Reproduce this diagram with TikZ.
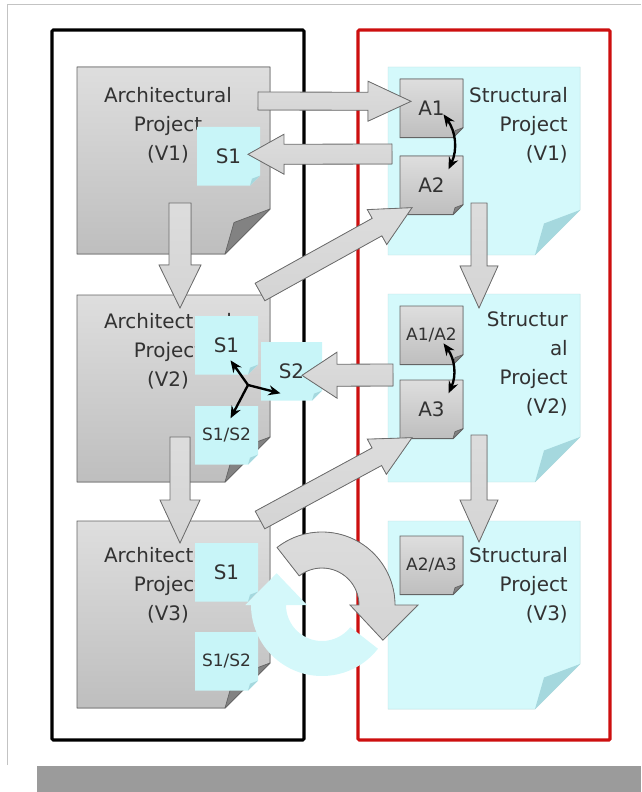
\documentclass[tikz,border=0pt]{standalone}
\usepackage{fontspec}
\setmainfont{DejaVu Sans}
\usetikzlibrary{arrows.meta,calc}
\definecolor{pagetop}{RGB}{222,222,222}
\definecolor{pagebottom}{RGB}{190,190,190}
\definecolor{pageedge}{RGB}{100,100,100}
\definecolor{foldgray}{RGB}{130,130,130}
\definecolor{pagecyan}{RGB}{212,249,251}
\definecolor{foldcyan}{RGB}{165,216,222}
\definecolor{notecyan}{RGB}{200,245,248}
\definecolor{cyclecyan}{RGB}{212,248,250}
\definecolor{arrowfill}{RGB}{212,212,212}
\definecolor{arrowedge}{RGB}{110,110,110}
\definecolor{framered}{RGB}{205,15,15}
\definecolor{textgray}{RGB}{50,50,50}
\definecolor{bordergray}{RGB}{195,195,195}
\definecolor{bargray}{RGB}{155,155,155}

% sheet with a folded corner on an empty box node
\newcommand\foldsheet[4]{%
    \filldraw[#3] (#1.north west) -- (#1.north east) -- ([yshift=#2]#1.south east)
        -- ([xshift=-#2]#1.south east) -- (#1.south west) -- cycle;
    \filldraw[#4] ([yshift=#2]#1.south east) -- ([xshift=-#2]#1.south east)
        -- ([xshift={-0.8*#2}, yshift={0.7*#2}]#1.south east) -- cycle;
}
% wide arrow: from, to, half shaft, half head, head length
\newcommand\widearrow[5]{%
    \filldraw[widearr] ($(#1)!#3!90:(#2)$) -- ($(#2)!#5!(#1)!#3!90:(#2)$)
        -- ($(#2)!#5!(#1)!#4!90:(#2)$) -- (#2)
        -- ($(#2)!#5!(#1)!#4!-90:(#2)$) -- ($(#2)!#5!(#1)!#3!-90:(#2)$)
        -- ($(#1)!#3!-90:(#2)$) -- cycle;
}

\begin{document}
\begin{tikzpicture}[
    x=0.03cm, y=-0.03cm,
    sheet/.style={inner sep=0pt, outer sep=0pt, anchor=north west},
    archsize/.style={sheet, minimum width=5.79cm, minimum height=5.61cm},
    structsize/.style={sheet, minimum width=5.76cm, minimum height=5.64cm},
    tagsize/.style={sheet, minimum width=1.89cm, minimum height=1.76cm},
    graysheet/.style={top color=pagetop, bottom color=pagebottom, draw=pageedge, line width=0.8pt},
    grayfold/.style={fill=foldgray, draw=pageedge, line width=0.6pt, line join=round},
    cyansheet/.style={fill=pagecyan, draw=pagecyan!88!black, line width=0.4pt},
    cyanfold/.style={fill=foldcyan, draw=none},
    notesheet/.style={fill=notecyan, draw=none},
    notefold/.style={fill=foldcyan, draw=none},
    widearr/.style={top color=arrowfill!80!white, bottom color=arrowfill, draw=arrowedge, line width=0.7pt},
    linkarr/.style={
        {Stealth[length=3.6mm, width=3mm]}-{Stealth[length=3.6mm, width=3mm]},
        line width=2pt
    },
    linkhead/.style={-{Stealth[length=3.6mm, width=3mm]}, line width=2pt},
    bigtext/.style={text=textgray, inner sep=0pt, font=\fontsize{17}{24.7}\selectfont},
    smalltext/.style={text=textgray, inner sep=0pt, font=\fontsize{14.5}{17}\selectfont}
]

\useasboundingbox (0,0) rectangle (641,792);

% =================== Slide border and shadow ===================
\draw[bordergray, line width=0.8pt] (7,765) -- (7,4) -- (641,4);
\fill[bargray] (37,766) rectangle (641,792);

% =================== Column frames ===================
\draw[black, line width=2.6pt, rounded corners=1pt] (52,30) rectangle (304,740);
\draw[framered, line width=2.6pt, rounded corners=1pt] (358,30) rectangle (610,740);

% =================== Architectural projects ===================
\node[archsize] (arch1) at (77,67) {};
\node[archsize] (arch2) at (77,295) {};
\node[archsize] (arch3) at (77,521) {};
\foreach \p in {arch1,arch2,arch3}{\foldsheet{\p}{1.35cm}{graysheet}{grayfold}}
\node[bigtext, align=center] (arch1txt) at (168,125) {Architectural\\Project\\(V1)};
\node[bigtext, align=center] (arch2txt) at (168,351) {Architectural\\Project\\(V2)};
\node[bigtext, align=center] (arch3txt) at (168,585) {Architectural\\Project\\(V3)};

% =================== Structural projects ===================
\node[structsize] (struct1) at (388,67) {};
\node[structsize] (struct2) at (388,294) {};
\node[structsize] (struct3) at (388,521) {};
\foreach \p in {struct1,struct2,struct3}{\foldsheet{\p}{1.35cm}{cyansheet}{cyanfold}}
\node[bigtext, align=right, anchor=east] (struct1txt) at (568,125) {Structural\\Project\\(V1)};
\node[bigtext, align=right, anchor=east] (struct2txt) at (568,364) {Structur\\al\\Project\\(V2)};
\node[bigtext, align=right, anchor=east] (struct3txt) at (568,585) {Structural\\Project\\(V3)};

% =================== Structural notes on the architecture ===================
\node[tagsize] (s1a) at (197,127) {};
\node[tagsize] (s1b) at (195,316) {};
\node[tagsize, minimum width=1.83cm] (s2) at (261,342) {};
\node[tagsize] (s12b) at (195,406) {};
\node[tagsize] (s1c) at (195,543) {};
\node[tagsize] (s12c) at (195,632) {};
\foreach \p in {s1a,s1b,s2,s12b,s1c,s12c}{\foldsheet{\p}{0.3cm}{notesheet}{notefold}}
\node[bigtext] (s1atxt) at (s1a.center) {S1};
\node[bigtext] (s1btxt) at (s1b.center) {S1};
\node[bigtext] (s2txt) at (s2.center) {S2};
\node[smalltext] (s12btxt) at (s12b.center) {S1/S2};
\node[bigtext] (s1ctxt) at (s1c.center) {S1};
\node[smalltext] (s12ctxt) at (s12c.center) {S1/S2};

% =================== Architectural boxes in the structure ===================
\node[tagsize] (a1) at (400,79) {};
\node[tagsize] (a2) at (400,156) {};
\node[tagsize] (a12) at (400,306) {};
\node[tagsize] (a3) at (400,380) {};
\node[tagsize] (a23) at (400,536) {};
\foreach \p in {a1,a2,a12,a3,a23}{\foldsheet{\p}{0.3cm}{graysheet}{grayfold}}
\node[bigtext] (a1txt) at (a1.center) {A1};
\node[bigtext] (a2txt) at (a2.center) {A2};
\node[smalltext] (a12txt) at (a12.center) {A1/A2};
\node[bigtext] (a3txt) at (a3.center) {A3};
\node[smalltext] (a23txt) at (a23.center) {A2/A3};

% =================== Wide arrows ===================
\coordinate (arch1out) at ($(arch1.north east)+(-12,34)$);
\coordinate (a1in) at ($(a1.west)+(11,-7)$);
\coordinate (struct1out) at ($(struct1.north west)+(4,87)$);
\coordinate (s1ain) at ($(s1a.east)+(-12,-2)$);
\coordinate (arch1down) at ($(arch1.south)+(6.5,-51)$);
\coordinate (arch2in) at ($(arch2.north)+(6.5,13)$);
\coordinate (arch2out) at ($(arch2.north east)+(-10,-3)$);
\coordinate (a2in) at ($(a2.south west)+(12,-7)$);
\coordinate (struct1down) at ($(struct1.south)+(-5,-52)$);
\coordinate (struct2in) at ($(struct2.north)+(-5,14)$);
\coordinate (struct2out) at ($(struct2.west)+(5,-13)$);
\coordinate (s2in) at ($(s2.west)+(41,4)$);
\coordinate (arch2down) at ($(arch2.south)+(6.5,-45)$);
\coordinate (arch3in) at ($(arch3.north)+(6.5,22)$);
\coordinate (arch3out) at ($(arch3.north east)+(-10,-1)$);
\coordinate (a3in) at ($(a3.south west)+(12,-1)$);
\coordinate (struct2down) at ($(struct2.south)+(-5,-47)$);
\coordinate (struct3in) at ($(struct3.north)+(-5,21)$);

\widearrow{arch1out}{a1in}{0.27cm}{0.6cm}{1.29cm}
\widearrow{struct1out}{s1ain}{0.3cm}{0.6cm}{1.08cm}
\widearrow{arch1down}{arch2in}{0.33cm}{0.63cm}{1.29cm}
\widearrow{arch2out}{a2in}{0.3cm}{0.6cm}{1.2cm}
\widearrow{struct1down}{struct2in}{0.24cm}{0.57cm}{1.26cm}
\widearrow{struct2out}{s2in}{0.33cm}{0.69cm}{1.05cm}
\widearrow{arch2down}{arch3in}{0.3cm}{0.6cm}{1.29cm}
\widearrow{arch3out}{a3in}{0.3cm}{0.6cm}{1.2cm}
\widearrow{struct2down}{struct3in}{0.24cm}{0.57cm}{1.26cm}

% =================== Links between versions ===================
\draw[linkarr] ($(a1.center)+(12,6)$) to[bend left=30] ($(a2.center)+(17,-16)$);
\draw[linkarr] ($(a12.center)+(12,8)$) to[bend left=30] ($(a3.center)+(17,-16)$);
\coordinate (split) at (248,385);
\draw[linkhead] (split) -- ($(s1b.center)+(4,15)$);
\draw[linkhead] (split) -- ($(s2.center)+(-11,22)$);
\draw[linkhead] (split) -- ($(s12b.center)+(4,-17)$);

% =================== Cycle between the columns ===================
\coordinate (turn) at (322,605);
\fill[cyclecyan]
    ($(turn)+(-38:2.13cm)$) arc[start angle=-38, end angle=-180, radius=2.13cm]
    -- ($(turn)+(180:2.3cm)$) -- ($(turn)+(145:1.66cm)$) -- ($(turn)+(180:0.45cm)$)
    -- ($(turn)+(180:1.08cm)$) arc[start angle=180, end angle=322, radius=1.08cm]
    -- cycle;
\filldraw[widearr]
    ($(turn)+(128:2.19cm)$) arc[start angle=128, end angle=0, radius=2.19cm]
    -- ($(turn)+(0:2.88cm)$) -- ($(turn)+(-30:2.11cm)$) -- ($(turn)+(0:0.84cm)$)
    -- ($(turn)+(0:1.11cm)$) arc[start angle=0, end angle=128, radius=1.11cm]
    -- cycle;

\end{tikzpicture}
\end{document}
